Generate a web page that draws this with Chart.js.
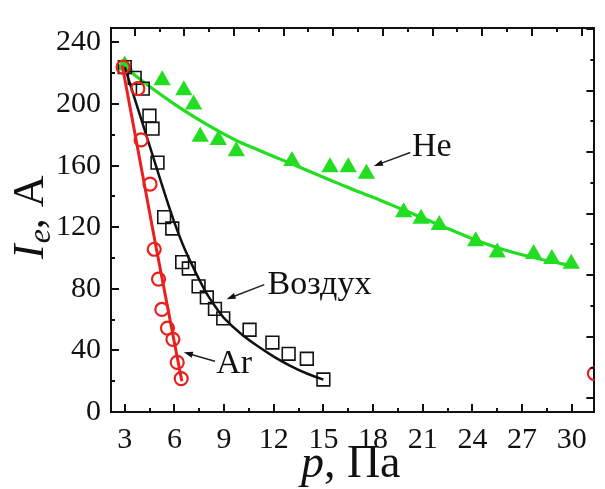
<!DOCTYPE html>
<html>
<head>
<meta charset="utf-8">
<script src="https://cdn.jsdelivr.net/npm/chart.js@4.4.0/dist/chart.umd.min.js"></script>
<style>
  html, body { margin: 0; padding: 0; background: #fff; }
  canvas { display: block; }
</style>
</head>
<body>
<canvas id="chart" width="605" height="489"></canvas>
<script>
// values: p in Pa, Ie in A
const heP = [3, 5.26, 6.57, 7.16, 7.56, 8.65, 9.74, 13.1, 15.4, 16.5, 17.6, 19.85, 20.9, 22.0, 24.2, 25.5, 27.7, 28.8, 29.97];
const heI = [225, 215.5, 209, 199.7, 178.8, 176.7, 169.4, 163, 159, 159, 154.8, 129.7, 125.5, 121.4, 110.9, 103.6, 102.6, 99.4, 96.3];

const airP = [3, 3.6, 4.09, 4.49, 4.68, 4.98, 5.38, 5.87, 6.47, 6.87, 7.46, 7.96, 8.45, 8.95, 10.54, 11.92, 12.9, 14.0, 15.0];
const airI = [224, 217, 210, 192.4, 184, 162, 126.6, 119.2, 97.3, 93.2, 81.6, 74.4, 67, 60.8, 53.4, 45.1, 37.8, 34.6, 21.1];

const arP = [2.9, 3.79, 3.99, 4.53, 4.78, 5.04, 5.24, 5.58, 5.91, 6.17, 6.41];
const arI = [224, 210, 176.7, 148, 105.7, 86.3, 66.6, 54.5, 47.2, 32.2, 21.7];
// stray red marker cut by the right frame
const arStrayP = [31.37];
const arStrayI = [25];

// fitted curves
const heFitP = [3, 4, 5, 6, 7, 8, 9, 10, 11, 12, 13, 14, 15, 16, 17, 18, 19, 20, 22, 24, 26, 28, 30];
const heFitI = [224, 215.5, 207.5, 200, 193, 186.5, 180.5, 175, 170.5, 166, 161.5, 157, 152.5, 148, 143.5, 139.5, 135, 130.5, 121.5, 112.5, 105, 99.5, 95];
const airFitP = [3, 4, 5, 5.5, 6, 6.5, 7, 7.5, 8, 8.5, 9, 10, 11, 12, 13, 14, 15];
const airFitI = [224, 190, 156, 139, 123, 109, 97, 86, 76, 68, 61, 51, 43, 36, 30, 25, 21];
const arFitP = [2.85, 4.86, 6.45];
const arFitI = [225, 109, 20];

// labels with arrows: text, text anchor (p, I), arrow tail and head (p, I)
const noteText = ["He", "Воздух", "Ar"];
const noteAt = [[20.35, 172], [11.63, 82.5], [8.53, 31.3]];
const noteArrow = [[[20.25, 168.5], [18.05, 159.8]], [[11.43, 82.7], [9.15, 73.3]], [[8.45, 33], [6.57, 38.8]]];

const SERIF = "'Liberation Serif', 'Times New Roman', serif";
const RED = "#e8201e";
const GREEN = "#22dd22";
const BLACK = "#111";

const pts = (xs, ys) => xs.map((x, i) => ({ x, y: ys[i] }));
const near = (v, step) => Math.abs(v / step - Math.round(v / step)) < 1e-6;

function fixSize(prop, val) {
  return (scale) => { scale[prop] = val; };
}

// ticks pointing into the plot
const inwardTicks = {
  id: "inwardTicks",
  afterDraw(chart) {
    const { ctx, chartArea: a } = chart;
    const s = chart.scales;
    ctx.save();
    ctx.strokeStyle = "#111";
    ctx.lineWidth = 2;
    const run = (scale, side, major) => {
      scale.ticks.forEach((t) => {
        const len = near(t.value, major) ? 8 : 4;
        const p = Math.round(scale.getPixelForValue(t.value));
        ctx.beginPath();
        if (side === "bottom") { ctx.moveTo(p, a.bottom); ctx.lineTo(p, a.bottom - len); }
        if (side === "top") { ctx.moveTo(p, a.top); ctx.lineTo(p, a.top + len); }
        if (side === "left") { ctx.moveTo(a.left, p); ctx.lineTo(a.left + len, p); }
        if (side === "right") { ctx.moveTo(a.right, p); ctx.lineTo(a.right - len, p); }
        ctx.stroke();
      });
    };
    run(s.x, "bottom", 3);
    run(s.x2, "top", 3);
    run(s.y, "left", 40);
    run(s.y2, "right", 40);
    ctx.restore();
  },
};

const notes = {
  id: "notes",
  afterDatasetsDraw(chart) {
    const { ctx } = chart;
    const { x, y } = chart.scales;
    ctx.save();
    ctx.fillStyle = "#111";
    ctx.strokeStyle = "#222";
    ctx.lineWidth = 1.5;
    noteText.forEach((txt, i) => {
      ctx.font = `34px ${SERIF}`;
      ctx.textAlign = "left";
      ctx.textBaseline = "middle";
      ctx.fillText(txt, x.getPixelForValue(noteAt[i][0]), y.getPixelForValue(noteAt[i][1]));
      const [t, h] = noteArrow[i];
      const x0 = x.getPixelForValue(t[0]), y0 = y.getPixelForValue(t[1]);
      const x1 = x.getPixelForValue(h[0]), y1 = y.getPixelForValue(h[1]);
      const ang = Math.atan2(y1 - y0, x1 - x0);
      ctx.beginPath();
      ctx.moveTo(x0, y0);
      ctx.lineTo(x1 - 6 * Math.cos(ang), y1 - 6 * Math.sin(ang));
      ctx.stroke();
      ctx.beginPath();
      ctx.moveTo(x1, y1);
      ctx.lineTo(x1 - 9 * Math.cos(ang) + 3 * Math.sin(ang), y1 - 9 * Math.sin(ang) - 3 * Math.cos(ang));
      ctx.lineTo(x1 - 9 * Math.cos(ang) - 3 * Math.sin(ang), y1 - 9 * Math.sin(ang) + 3 * Math.cos(ang));
      ctx.closePath();
      ctx.fill();
    });
    ctx.restore();
  },
};

// axis titles with italic symbols and subscript
const axisTitles = {
  id: "axisTitles",
  afterDraw(chart) {
    const { ctx, chartArea: a } = chart;
    ctx.save();
    ctx.fillStyle = "#111";
    ctx.textBaseline = "alphabetic";
    ctx.textAlign = "left";

    // p, Па
    ctx.font = `italic 46px ${SERIF}`;
    const wp = ctx.measureText("p").width;
    ctx.font = `46px ${SERIF}`;
    const wr = ctx.measureText(", Па").width;
    const bx = (a.left + a.right) / 2 - (wp + wr) / 2 - 2;
    ctx.font = `italic 46px ${SERIF}`;
    ctx.fillText("p", bx, 477);
    ctx.font = `46px ${SERIF}`;
    ctx.fillText(", Па", bx + wp, 477);

    // Ie, A
    ctx.translate(43, 259);
    ctx.rotate(-Math.PI / 2);
    ctx.font = `italic 44px ${SERIF}`;
    ctx.fillText("I", 0, 0);
    let w = ctx.measureText("I").width;
    ctx.font = `italic 32px ${SERIF}`;
    ctx.fillText("e", w + 1, 7);
    w += ctx.measureText("e").width + 1;
    ctx.font = `44px ${SERIF}`;
    ctx.fillText(", A", w, 0);
    ctx.restore();
  },
};

const whiteBg = {
  id: "whiteBg",
  beforeDraw(chart) {
    const { ctx, width, height } = chart;
    ctx.save();
    ctx.fillStyle = "#fff";
    ctx.fillRect(0, 0, width, height);
    ctx.restore();
  },
};

const xMin = 2.17, xMax = 31.37, yMax = 249.4;
const xShift = 0.6, yShift = 8.8;

const hidden = { display: false };

new Chart(document.getElementById("chart"), {
  type: "scatter",
  data: {
    datasets: [
      {
        label: "Ar",
        data: pts(arP, arI),
        pointStyle: "circle",
        pointRadius: 6.5,
        pointBorderWidth: 2.2,
        pointBorderColor: RED,
        pointBackgroundColor: "rgba(0,0,0,0)",
        clip: 0,
      },
      {
        label: "Ar stray",
        data: pts(arStrayP, arStrayI),
        pointStyle: "circle",
        pointRadius: 6.5,
        pointBorderWidth: 2.2,
        pointBorderColor: RED,
        pointBackgroundColor: "rgba(0,0,0,0)",
        clip: 0,
      },
      {
        label: "Ar fit",
        data: pts(arFitP, arFitI),
        showLine: true,
        borderColor: RED,
        borderWidth: 3,
        pointRadius: 0,
        clip: 0,
      },
      {
        label: "Воздух",
        data: pts(airP, airI),
        pointStyle: "rect",
        pointRadius: 9,
        pointBorderWidth: 1.6,
        pointBorderColor: BLACK,
        pointBackgroundColor: "rgba(0,0,0,0)",
        clip: 0,
      },
      {
        label: "Воздух fit",
        data: pts(airFitP, airFitI),
        showLine: true,
        tension: 0.3,
        borderColor: BLACK,
        borderWidth: 2.5,
        pointRadius: 0,
        clip: 0,
      },
      {
        label: "He",
        data: pts(heP, heI),
        pointStyle: "triangle",
        pointRadius: 10,
        pointBorderWidth: 0,
        pointBackgroundColor: GREEN,
        clip: 0,
      },
      {
        label: "He fit",
        data: pts(heFitP, heFitI),
        showLine: true,
        tension: 0.3,
        borderColor: GREEN,
        borderWidth: 3.2,
        pointRadius: 0,
        clip: 0,
      },
    ],
  },
  options: {
    responsive: false,
    animation: false,
    devicePixelRatio: 1,
    layout: { padding: 0 },
    plugins: {
      legend: hidden,
      tooltip: { enabled: false },
    },
    scales: {
      x: {
        type: "linear",
        position: "bottom",
        min: xMin,
        max: xMax,
        afterFit: fixSize("height", 77),
        grid: { display: false, drawTicks: false },
        border: { display: true, color: "#111", width: 2 },
        ticks: {
          stepSize: 1.5,
          includeBounds: false,
          autoSkip: false,
          maxRotation: 0,
          padding: 10,
          color: "#111",
          font: { family: SERIF, size: 30 },
          callback: (v) => (near(v, 3) ? String(Math.round(v)) : ""),
        },
      },
      x2: {
        type: "linear",
        position: "top",
        min: xMin - xShift,
        max: xMax - xShift,
        afterFit: fixSize("height", 14),
        grid: { display: false, drawTicks: false },
        border: { display: true, color: "#111", width: 2 },
        ticks: { display: false, stepSize: 1.5, includeBounds: false, autoSkip: false },
      },
      y: {
        type: "linear",
        position: "left",
        min: 0,
        max: yMax,
        afterFit: fixSize("width", 111),
        grid: { display: false, drawTicks: false },
        border: { display: true, color: "#111", width: 2 },
        ticks: {
          stepSize: 20,
          includeBounds: false,
          autoSkip: false,
          padding: 10,
          color: "#111",
          font: { family: SERIF, size: 30 },
          callback: (v) => (near(v, 40) ? String(Math.round(v)) : ""),
        },
      },
      y2: {
        type: "linear",
        position: "right",
        min: -yShift,
        max: yMax - yShift,
        afterFit: fixSize("width", 3),
        grid: { display: false, drawTicks: false },
        border: { display: true, color: "#111", width: 2 },
        ticks: { display: false, stepSize: 20, includeBounds: false, autoSkip: false },
      },
    },
  },
  plugins: [whiteBg, inwardTicks, notes, axisTitles],
});
</script>
</body>
</html>
